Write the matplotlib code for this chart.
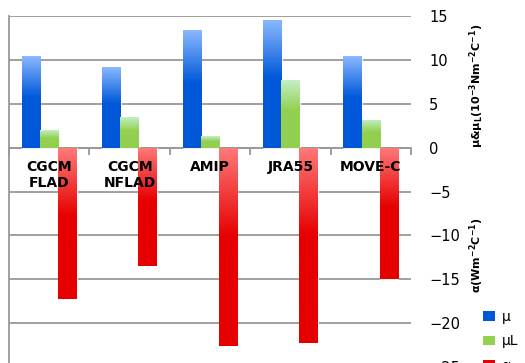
import numpy as np
import matplotlib.pyplot as plt
from matplotlib.colors import to_rgb
from matplotlib.patches import Patch

models = ['CGCM\nFLAD', 'CGCM\nNFLAD', 'AMIP', 'JRA55', 'MOVE-C']
mu = [10.4, 9.2, 13.4, 14.5, 10.4]
mu_l = [2.0, 3.5, 1.3, 7.7, 3.2]
alpha = [-17.2, -13.5, -22.6, -22.3, -15.0]

series = [
    ('μ', mu, '#8ab8ff', '#0058d8'),
    ('μL', mu_l, '#c4efc4', '#92d050'),
    ('α', alpha, '#ff7a7a', '#e60000'),
]


def gradient_fill(ax, bars, light, dark, frac=0.45):
    # paint each bar with a top-to-bottom shaded image, clipped to the bar
    c0 = np.array(to_rgb(light))
    c1 = np.array(to_rgb(dark))
    t = np.linspace(0, 1, 200)
    k = np.clip(t / frac, 0, 1)[:, None]
    img = (c0 + (c1 - c0) * k)[:, None, :]
    for b in bars:
        x0, y0 = b.get_x(), b.get_y()
        w, h = b.get_width(), b.get_height()
        lo, hi = min(y0, y0 + h), max(y0, y0 + h)
        im = ax.imshow(img, extent=(x0, x0 + w, lo, hi), aspect='auto',
                       origin='upper', zorder=2, interpolation='bilinear')
        im.set_clip_path(b)
        b.set_facecolor('none')


fig = plt.figure(figsize=(5.25, 3.63), dpi=100)
W, H = 525, 363
ax = fig.add_axes([9 / W, (H - 367) / H, (411 - 9) / W, (367 - 16) / H])

x = np.arange(len(models))
width = 0.23
offsets = [-0.225, 0.0, 0.225]
handles = []
for (name, vals, light, dark), off in zip(series, offsets):
    bars = ax.bar(x + off, vals, width, zorder=2,
                  edgecolor='white', linewidth=0.6)
    gradient_fill(ax, bars, light, dark)
    handles.append(Patch(facecolor=dark, edgecolor='none', label=name))

ax.set_xlim(-0.5, 4.5)
ax.set_ylim(-25, 15)

# horizontal grid at every 5 units
ax.set_yticks(np.arange(-25, 16, 5))
ax.yaxis.grid(True, color='#999999', linewidth=1.3)
ax.set_axisbelow(True)
ax.yaxis.tick_right()
ax.tick_params(axis='y', length=0, pad=13, labelsize=10.5)

for s in ['top', 'right']:
    ax.spines[s].set_visible(False)
ax.spines['left'].set_color('#999999')
ax.spines['left'].set_linewidth(1.3)
ax.spines['bottom'].set_position(('data', 0))
ax.spines['bottom'].set_color('#999999')
ax.spines['bottom'].set_linewidth(1.3)
ax.spines['bottom'].set_zorder(1)

ax.set_xticks(x)
ax.set_xticklabels(models, fontweight='bold', fontsize=10, linespacing=1.2)
ax.set_xticks(np.arange(-0.5, 4.6, 1), minor=True)
ax.tick_params(axis='x', which='major', length=0, pad=9)
ax.tick_params(axis='x', which='minor', length=5, width=1.3,
               color='#999999', direction='out')
# category names sit on top of the red bars
ax.xaxis.set_zorder(5)

fig.text(477 / W, 1 - 86 / H, r'μ&μ$_\mathregular{L}$(10$^\mathregular{-3}$Nm$^\mathregular{-2}$C$^\mathregular{-1}$)',
         rotation=90, ha='center', va='center', fontsize=8, fontweight='bold')
fig.text(477 / W, 1 - 255 / H, r'α(Wm$^\mathregular{-2}$C$^\mathregular{-1}$)',
         rotation=90, ha='center', va='center', fontsize=8, fontweight='bold')

fig.legend(handles=handles, loc='upper left', bbox_to_anchor=(483 / W, 1 - 310 / H),
           frameon=False, fontsize=10, handlelength=0.85, handleheight=0.7,
           handletextpad=0.5, labelspacing=0.75, borderpad=0, borderaxespad=0)

fig.savefig('out.png', dpi=100)
